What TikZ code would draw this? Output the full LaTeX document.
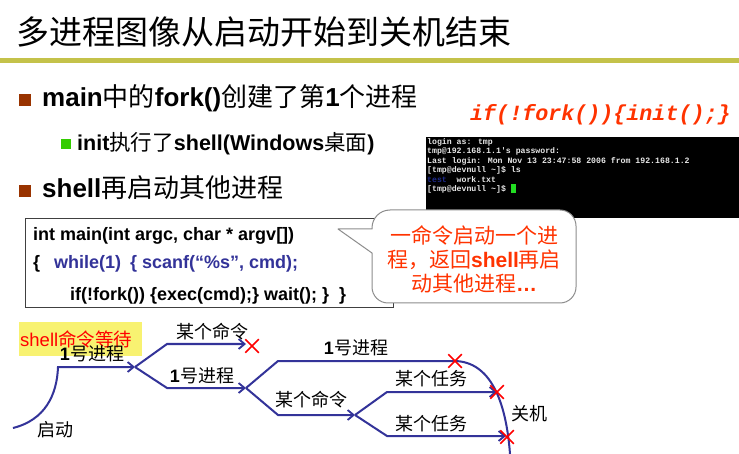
\documentclass[tikz,border=0pt]{standalone}
\usepackage{fontspec}
\setmainfont{Liberation Sans}
\newfontfamily\cjkf{Noto Sans CJK SC}
\newfontfamily\monof{Liberation Mono}
\newcommand{\zhtxt}[1]{{\cjkf\mdseries #1}}
\usetikzlibrary{arrows.meta,shapes.misc}
\definecolor{rulec}{HTML}{C4C24A}
\definecolor{bulbrown}{HTML}{993300}
\definecolor{bulgreen}{HTML}{33CC00}
\definecolor{codeblue}{HTML}{333399}
\definecolor{procblue}{HTML}{333399}
\definecolor{orred}{HTML}{FF3300}
\definecolor{hlyellow}{HTML}{F8F271}
\definecolor{calloutgray}{HTML}{8C8C8C}
\definecolor{termwhite}{HTML}{E8E8E8}
\definecolor{termblue}{HTML}{1E2A8C}
\definecolor{cursorgreen}{HTML}{22DD22}
\tikzset{
  proc/.style={draw=procblue, line width=2pt, line join=miter},
  parr/.style={proc, -{Straight Barb[length=6pt,width=10pt,line width=1.8pt]}},
  xmk/.style={cross out, draw=red, line width=1.5pt, minimum size=12pt, inner sep=0pt},
  lbl/.style={font=\cjkf\fontsize{18}{18}\selectfont, inner sep=0pt},
  bul1/.style={font=\bfseries\fontsize{26}{26}\selectfont, inner sep=0pt, anchor=base west},
  bul2/.style={font=\bfseries\fontsize{21.5}{21.5}\selectfont, inner sep=0pt, anchor=base west},
  codeln/.style={font=\bfseries\fontsize{18}{18}\selectfont, inner sep=0pt, anchor=base west},
  term/.style={font=\monof\bfseries\fontsize{8.2}{8.2}\selectfont, text=termwhite, inner sep=0pt, anchor=west},
}
\begin{document}
\begin{tikzpicture}[x=1pt,y=-1pt]
\useasboundingbox (0,0) rectangle (739,454);
\fill[white] (0,0) rectangle (739,454);

% title and rule
\node[anchor=west, inner sep=0pt, font=\cjkf\fontsize{33}{33}\selectfont] (title) at (16,32) {多进程图像从启动开始到关机结束};
\draw[rulec, line width=4.4pt] (0,60.5) -- (739,60.5);

% bullets
\fill[bulbrown] (19,94) rectangle (31,106);
\node[bul1] (b1) at (42,106.5) {main\zhtxt{中的}fork()\zhtxt{创建了第}1\zhtxt{个进程}};
\fill[bulgreen] (61,139) rectangle (71,149);
\node[bul2] (b2) at (77,150.5) {init\zhtxt{执行了}shell(Windows\zhtxt{桌面})};
\fill[bulbrown] (19,185) rectangle (31,197);
\node[bul1] (b3) at (42,198) {shell\zhtxt{再启动其他进程}};

% red code
\node[anchor=west, inner sep=0pt, text=orred, font=\monof\bfseries\itshape\fontsize{21.7}{21.7}\selectfont] (initcode) at (470,115) {if(!fork())\{init();\}};

% terminal
\fill[black] (426,137) rectangle (739,218);
\node[term] (t1) at (427,142) {login as: tmp};
\node[term] (t2) at (427,151.5) {tmp@192.168.1.1's password:};
\node[term] (t3) at (427,161) {Last login: Mon Nov 13 23:47:58 2006 from 192.168.1.2};
\node[term] (t4) at (427,170.3) {[tmp@devnull \textasciitilde]\$ ls};
\node[term] (t5) at (427,179.6) {\textcolor{termblue}{test}\hspace{9.8pt}work.txt};
\node[term] (t6) at (427,189) {[tmp@devnull \textasciitilde]\$};
\fill[cursorgreen] (511,184) rectangle (516,193.5);

% code box
\draw[draw=black!75, line width=0.9pt] (25,218) rectangle (393,307);
\node[codeln] (c1) at (33,241) {int main(int argc, char * argv[])};
\node[codeln] (c2) at (33,269) {\{\hspace{14pt}\textcolor{codeblue}{while(1)\hspace{9pt}\{ scanf(“\%s”, cmd);}};
\node[codeln] (c3) at (70,301) {if(!fork()) \{exec(cmd);\} wait(); \}\hspace{10pt}\}};

% callout
\draw[fill=white, draw=calloutgray, line width=1pt, line join=round]
  (338,229) -- (372,253) -- (372,287)
  .. controls (372,295.8) and (379.2,303) .. (388,303) -- (560,303)
  .. controls (568.8,303) and (576,295.8) .. (576,287) -- (576,226)
  .. controls (576,217.2) and (568.8,210) .. (560,210) -- (390,210)
  .. controls (380,210) and (372,218) .. (372,228) -- (372,229) -- cycle;
\node[font=\cjkf\fontsize{21}{24}\selectfont, text=orred, align=center, inner sep=0pt] (ctext) at (474,259)
  {一命令启动一个进\\程，返回{\rmfamily\bfseries shell}再启\\动其他进程{\rmfamily\bfseries …}};

% process diagram
\coordinate (s0) at (13,428);
\coordinate (k0) at (58,367);
\coordinate (f1) at (135,367);
\coordinate (u1) at (167,344);
\coordinate (e1) at (246,344);
\coordinate (l1) at (167,388);
\coordinate (f2) at (246,388);
\coordinate (u2) at (278,361);
\coordinate (x2) at (455,361);
\coordinate (endp) at (510,454);
\coordinate (l2) at (278,415);
\coordinate (f3) at (355,415);
\coordinate (u3) at (387,392);
\coordinate (e3) at (497,392);
\coordinate (l3) at (387,436);
\coordinate (e4) at (506,436);

\draw[parr] (s0) .. controls (45,420) and (57,395) .. (k0) -- (f1);
\draw[parr] (f1) -- (u1) -- (e1);
\draw[parr] (f1) -- (l1) -- (f2);
\draw[proc] (f2) -- (u2) -- (x2) .. controls (490,362) and (506,400) .. (endp);
\draw[parr] (f2) -- (l2) -- (f3);
\draw[parr] (f3) -- (u3) -- (e3);
\draw[parr] (f3) -- (l3) -- (e4);

\node[xmk] (xa) at (252,346) {};
\node[xmk] (xb) at (455,361) {};
\node[xmk] (xc) at (497,392) {};
\node[xmk] (xd) at (507,437) {};

% labels
\node[fill=hlyellow, inner sep=0pt, anchor=north west, minimum height=34pt, text width=123pt, align=left,
      text=red, font=\cjkf\fontsize{18.5}{18.5}\selectfont] (wait) at (19,322) {\hspace{1pt}{\rmfamily shell}命令等待};
\node[lbl] (p1) at (92,354) {{\rmfamily\bfseries 1}号进程};
\node[lbl] (cmd1) at (212,332) {某个命令};
\node[lbl] (p2) at (202,376) {{\rmfamily\bfseries 1}号进程};
\node[lbl] (start) at (55,430) {启动};
\node[lbl] (p3) at (356,348) {{\rmfamily\bfseries 1}号进程};
\node[lbl] (task1) at (431,379) {某个任务};
\node[lbl] (cmd2) at (311,400) {某个命令};
\node[lbl] (task2) at (431,424) {某个任务};
\node[lbl] (shut) at (529,414) {关机};
\end{tikzpicture}
\end{document}
